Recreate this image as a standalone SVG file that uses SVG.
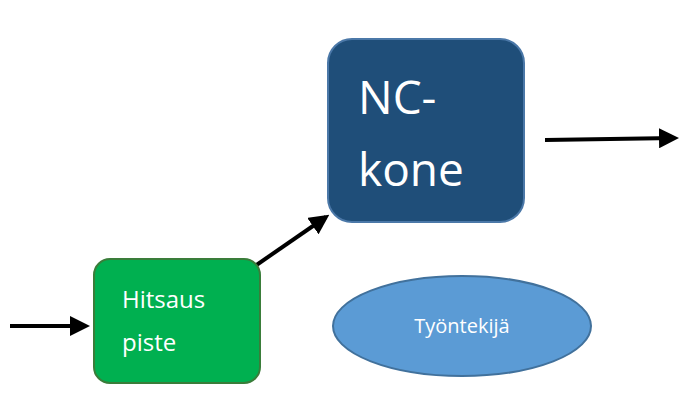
<svg xmlns="http://www.w3.org/2000/svg" width="682" height="416" viewBox="0 0 682 416">
<style>
.t{font-family:"Open Sans","Liberation Sans",sans-serif;fill:#fff}
.c{stroke:#000;stroke-width:4;fill:none}
</style>
<defs><marker id="a" markerWidth="5" markerHeight="5" refX="4" refY="2.5" orient="auto" markerUnits="strokeWidth"><path d="M0,0L5,2.5L0,5z" fill="#000"/></marker></defs>
<rect width="682" height="416" fill="#fff"/>
<g id="connectors">
<line class="c" x1="10" y1="326" x2="86" y2="326" marker-end="url(#a)"/>
<line class="c" x1="255" y1="266" x2="326" y2="217" marker-end="url(#a)"/>
<line class="c" x1="545" y1="140" x2="675" y2="138" marker-end="url(#a)"/>
</g>
<g id="hitsaus">
<rect x="94" y="259" width="166" height="124" rx="16" fill="#00b050" stroke="#3a7d3a" stroke-width="2"/>
<text class="t" x="122" y="308" font-size="24">Hitsaus</text>
<text class="t" x="122" y="351" font-size="24">piste</text>
</g>
<g id="nc">
<rect x="328" y="39" width="196" height="183" rx="24" fill="#1f4e79" stroke="#4b78a8" stroke-width="2"/>
<text class="t" x="358" y="114" font-size="46">NC-</text>
<text class="t" x="358" y="186" font-size="46">kone</text>
</g>
<g id="tyontekija">
<ellipse cx="462" cy="326" rx="129" ry="50" fill="#5b9bd5" stroke="#41719c" stroke-width="2"/>
<text class="t" x="462" y="333" font-size="20" text-anchor="middle">Työntekijä</text>
</g>
</svg>
